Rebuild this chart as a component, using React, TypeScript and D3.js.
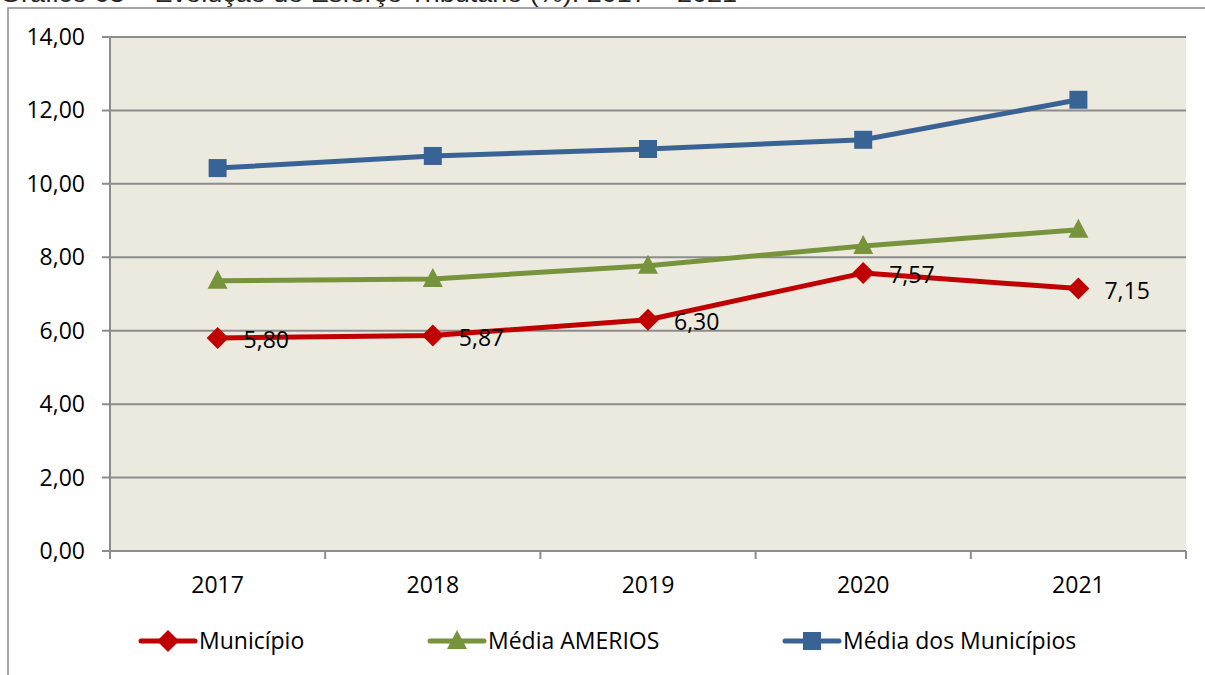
import { useEffect, useRef } from "react";
import * as d3 from "d3";

const YEARS = ["2017", "2018", "2019", "2020", "2021"];
const MUNICIPIO = [5.8, 5.87, 6.3, 7.57, 7.15];
const MEDIA_AMERIOS = [7.36, 7.41, 7.77, 8.31, 8.75];
const MEDIA_MUNICIPIOS = [10.43, 10.76, 10.95, 11.2, 12.29];
const Y_TICKS = [0, 2, 4, 6, 8, 10, 12, 14];

const W = 1205;
const H = 675;
const FONT = "'Open Sans', Lato, sans-serif";
const FS = 23;

type Series = { name: string; values: number[]; color: string; marker: "diamond" | "triangle" | "square"; labels: boolean };

const SERIES: Series[] = [
  { name: "Média dos Municípios", values: MEDIA_MUNICIPIOS, color: "#3A6395", marker: "square", labels: false },
  { name: "Média AMERIOS", values: MEDIA_AMERIOS, color: "#77933C", marker: "triangle", labels: false },
  { name: "Município", values: MUNICIPIO, color: "#C00000", marker: "diamond", labels: true },
];
const LEGEND_ORDER = ["Município", "Média AMERIOS", "Média dos Municípios"];

const fmt = (v: number) => v.toFixed(2).replace(".", ",");

export default function App() {
  const svgRef = useRef<SVGSVGElement>(null);

  useEffect(() => {
    const svg = d3.select(svgRef.current!);
    svg.selectAll("*").remove();

    const left = 110, right = 1186, top = 37, bottom = 551;
    const x = d3.scaleBand<string>().domain(YEARS).range([left, right]);
    const y = d3.scaleLinear().domain([0, 14]).range([bottom, top]);
    const cx = (d: string) => (x(d) ?? 0) + x.bandwidth() / 2;

    // moldura externa (só topo e esquerda aparecem)
    svg.append("path")
      .attr("d", `M8,${H} L8,8 L${W},8`)
      .attr("fill", "none").attr("stroke", "#8a8a8a").attr("stroke-width", 1.5);

    // título cortado no topo
    svg.append("text")
      .attr("x", 0).attr("y", 2)
      .attr("font-family", "'Liberation Sans', Arial, sans-serif").attr("font-size", 24)
      .attr("fill", "#222")
      .attr("textLength", 737).attr("lengthAdjust", "spacingAndGlyphs")
      .text("Gráfico 03 – Evolução do Esforço Tributário (%): 2017 – 2021");

    svg.append("rect")
      .attr("x", left).attr("y", top).attr("width", right - left).attr("height", bottom - top)
      .attr("fill", "#ECE9DF");

    const g = svg.append("g");
    for (const t of Y_TICKS) {
      g.append("line")
        .attr("x1", left - 8).attr("x2", right)
        .attr("y1", y(t)).attr("y2", y(t))
        .attr("stroke", "#8c8c8c").attr("stroke-width", 2);
      g.append("text")
        .attr("x", 85).attr("y", y(t)).attr("dy", "0.35em")
        .attr("text-anchor", "end")
        .attr("font-family", FONT).attr("font-size", FS).attr("fill", "#000")
        .text(fmt(t));
    }

    g.append("line")
      .attr("x1", left).attr("x2", left).attr("y1", top).attr("y2", bottom)
      .attr("stroke", "#8c8c8c").attr("stroke-width", 2);

    const edges = YEARS.map((d) => x(d) ?? 0).concat([right]);
    for (const e of edges) {
      g.append("line")
        .attr("x1", e).attr("x2", e).attr("y1", bottom).attr("y2", bottom + 8)
        .attr("stroke", "#8c8c8c").attr("stroke-width", 2);
    }
    for (const d of YEARS) {
      g.append("text")
        .attr("x", cx(d)).attr("y", 585).attr("dy", "0.35em")
        .attr("text-anchor", "middle")
        .attr("font-family", FONT).attr("font-size", FS).attr("fill", "#000")
        .text(d);
    }

    const markerPath = (m: Series["marker"]) => {
      if (m === "diamond") return "M0,-11 L11,0 L0,11 L-11,0 Z";
      if (m === "triangle") return "M0,-11 L10,8 L-10,8 Z";
      return "M-9,-9 L9,-9 L9,9 L-9,9 Z";
    };

    const line = d3.line<number>()
      .x((_, i) => cx(YEARS[i]))
      .y((v) => y(v));

    for (const s of SERIES) {
      const sg = svg.append("g");
      sg.append("path")
        .attr("d", line(s.values))
        .attr("fill", "none").attr("stroke", s.color).attr("stroke-width", 5)
        .attr("stroke-linejoin", "round");
      sg.selectAll("path.m")
        .data(s.values)
        .join("path")
        .attr("class", "m")
        .attr("d", markerPath(s.marker))
        .attr("transform", (v, i) => `translate(${cx(YEARS[i])},${y(v)})`)
        .attr("fill", s.color);
      if (s.labels) {
        sg.selectAll("text")
          .data(s.values)
          .join("text")
          .attr("x", (_, i) => cx(YEARS[i]) + 26)
          .attr("y", (v) => y(v) + 2)
          .attr("dy", "0.35em")
          .attr("font-family", FONT).attr("font-size", FS).attr("fill", "#000")
          .text((v) => fmt(v));
      }
    }

    // legenda
    const legendPos: Record<string, [number, number]> = {
      "Município": [141, 195],
      "Média AMERIOS": [430, 484],
      "Média dos Municípios": [785, 839],
    };
    const ly = 641;
    for (const name of LEGEND_ORDER) {
      const s = SERIES.find((d) => d.name === name)!;
      const [x0, x1] = legendPos[name];
      const lg = svg.append("g");
      lg.append("line")
        .attr("x1", x0).attr("x2", x1).attr("y1", ly).attr("y2", ly)
        .attr("stroke", s.color).attr("stroke-width", 5).attr("stroke-linecap", "round");
      lg.append("path")
        .attr("d", markerPath(s.marker))
        .attr("transform", `translate(${(x0 + x1) / 2},${ly})`)
        .attr("fill", s.color);
      lg.append("text")
        .attr("x", x1 + 4).attr("y", ly).attr("dy", "0.35em")
        .attr("font-family", FONT).attr("font-size", FS).attr("fill", "#000")
        .text(name);
    }
  }, []);

  return (
    <svg ref={svgRef} width={W} height={H} style={{ position: "absolute", left: 0, top: 0, background: "#fff" }} />
  );
}
